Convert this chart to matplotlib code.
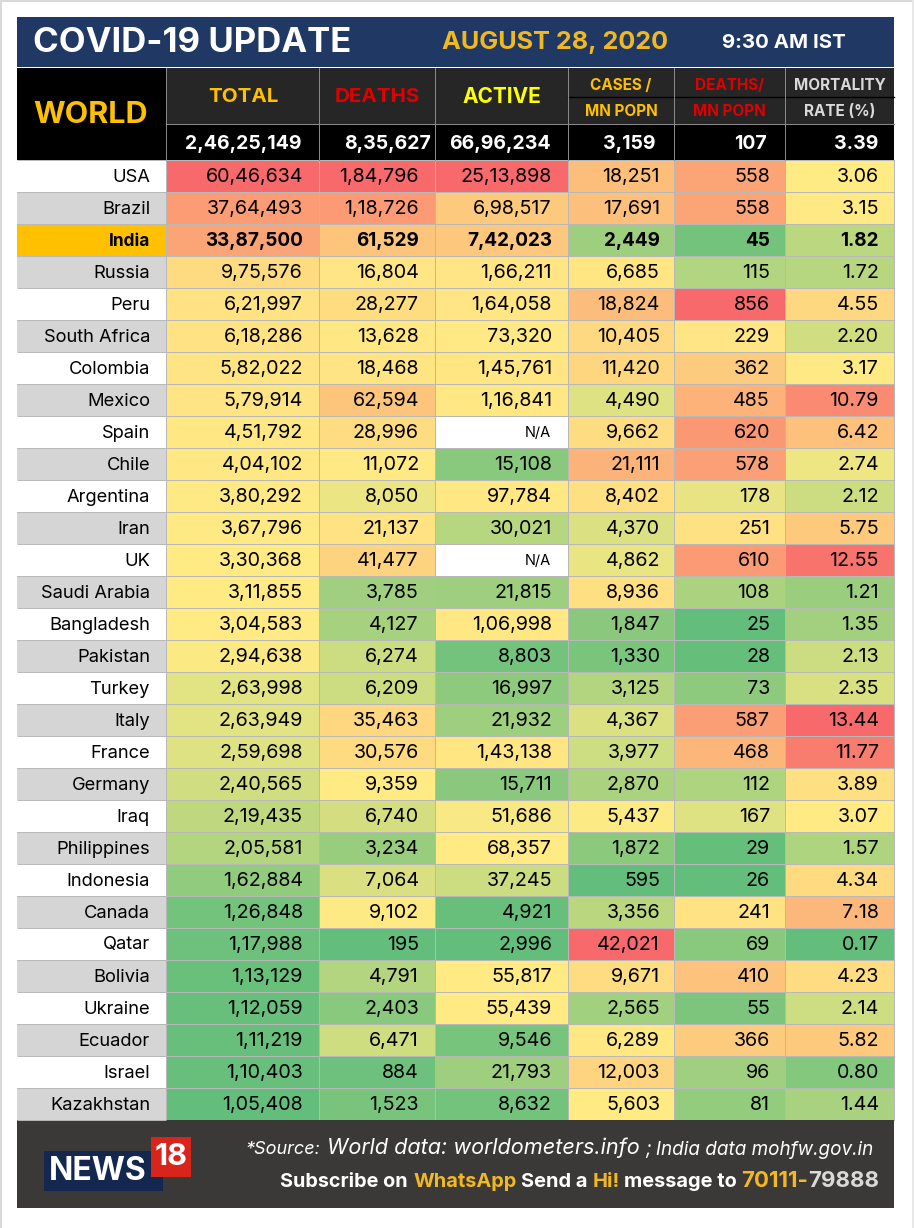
import numpy as np
import matplotlib
matplotlib.use("Agg")
import matplotlib.pyplot as plt
from matplotlib.colors import LinearSegmentedColormap, TwoSlopeNorm

plt.rcParams['font.family'] = ['Inter', 'DejaVu Sans']

countries = ["USA", "Brazil", "India", "Russia", "Peru", "South Africa", "Colombia", "Mexico",
             "Spain", "Chile", "Argentina", "Iran", "UK", "Saudi Arabia", "Bangladesh", "Pakistan",
             "Turkey", "Italy", "France", "Germany", "Iraq", "Philippines", "Indonesia", "Canada",
             "Qatar", "Bolivia", "Ukraine", "Ecuador", "Israel", "Kazakhstan"]
total = ["60,46,634", "37,64,493", "33,87,500", "9,75,576", "6,21,997", "6,18,286", "5,82,022", "5,79,914",
         "4,51,792", "4,04,102", "3,80,292", "3,67,796", "3,30,368", "3,11,855", "3,04,583", "2,94,638",
         "2,63,998", "2,63,949", "2,59,698", "2,40,565", "2,19,435", "2,05,581", "1,62,884", "1,26,848",
         "1,17,988", "1,13,129", "1,12,059", "1,11,219", "1,10,403", "1,05,408"]
deaths = ["1,84,796", "1,18,726", "61,529", "16,804", "28,277", "13,628", "18,468", "62,594",
          "28,996", "11,072", "8,050", "21,137", "41,477", "3,785", "4,127", "6,274",
          "6,209", "35,463", "30,576", "9,359", "6,740", "3,234", "7,064", "9,102",
          "195", "4,791", "2,403", "6,471", "884", "1,523"]
active = ["25,13,898", "6,98,517", "7,42,023", "1,66,211", "1,64,058", "73,320", "1,45,761", "1,16,841",
          "N/A", "15,108", "97,784", "30,021", "N/A", "21,815", "1,06,998", "8,803",
          "16,997", "21,932", "1,43,138", "15,711", "51,686", "68,357", "37,245", "4,921",
          "2,996", "55,817", "55,439", "9,546", "21,793", "8,632"]
cases_mn = ["18,251", "17,691", "2,449", "6,685", "18,824", "10,405", "11,420", "4,490",
            "9,662", "21,111", "8,402", "4,370", "4,862", "8,936", "1,847", "1,330",
            "3,125", "4,367", "3,977", "2,870", "5,437", "1,872", "595", "3,356",
            "42,021", "9,671", "2,565", "6,289", "12,003", "5,603"]
deaths_mn = ["558", "558", "45", "115", "856", "229", "362", "485",
             "620", "578", "178", "251", "610", "108", "25", "28",
             "73", "587", "468", "112", "167", "29", "26", "241",
             "69", "410", "55", "366", "96", "81"]
mortality = ["3.06", "3.15", "1.82", "1.72", "4.55", "2.20", "3.17", "10.79",
             "6.42", "2.74", "2.12", "5.75", "12.55", "1.21", "1.35", "2.13",
             "2.35", "13.44", "11.77", "3.89", "3.07", "1.57", "4.34", "7.18",
             "0.17", "4.23", "2.14", "5.82", "0.80", "1.44"]
world = ["2,46,25,149", "8,35,627", "66,96,234", "3,159", "107", "3.39"]
columns = [total, deaths, active, cases_mn, deaths_mn, mortality]


def tonum(s):
    return np.nan if s == "N/A" else float(s.replace(",", ""))


# excel style 3 colour scale, one per column, yellow at the median
cmap = LinearSegmentedColormap.from_list("excel", ["#63BE7B", "#FFEB84", "#F8696B"])
cmap.set_bad("white")

W, H = 914, 1228
fig = plt.figure(figsize=(W / 100, H / 100), dpi=100)
ax = fig.add_axes([0, 0, 1, 1])
ax.set_xlim(0, W)
ax.set_ylim(H, 0)
ax.axis("off")

GRID = "#B8B8B8"
xedges = [166, 319, 435, 568, 674, 785, 894]
right = [303, 419, 552, 660, 770, 879]
ROW0 = 160
ROWH = 32
n = len(countries)
yedges = ROW0 + ROWH * np.arange(n + 1)


def box(x0, y0, x1, y1, color, **kw):
    ax.fill([x0, x1, x1, x0], [y0, y0, y1, y1], color=color, lw=0, **kw)


# page edge
box(0, 0, W, 2, "#D9D9D9")
box(0, 0, 2, H, "#D9D9D9")
box(912, 0, W, H, "#E8E8E8")

# title band
box(17, 17, 894, 67, "#1F3864")
ax.text(33, 43, "COVID-19 UPDATE", color="white", fontsize=25, fontweight="bold", va="center")
ax.text(442, 43, "AUGUST 28, 2020", color="#F2B81F", fontsize=18.2, fontweight="bold", va="center")
ax.text(722, 43, "9:30 AM IST", color="white", fontsize=14.7, fontweight="bold", va="center")

# header block
box(17, 68, 166, 160, "black")
box(166, 68, 894, 124, "#262626")
box(166, 124, 894, 160, "black")
ax.text(91, 115, "WORLD", color="#FFC000", fontsize=22, fontweight="bold", ha="center", va="center")
ax.text(243, 97, "TOTAL", color="#FFC000", fontsize=14.8, fontweight="bold", ha="center", va="center")
ax.text(377, 97, "DEATHS", color="#E00000", fontsize=14.8, fontweight="bold", ha="center", va="center")
ax.text(502, 97, "ACTIVE", color="#FFFF00", fontsize=15, fontweight="bold", ha="center", va="center")
ax.text(621, 86, "CASES /", color="#FFC000", fontsize=11, fontweight="bold", ha="center", va="center")
ax.text(621, 111, "MN POPN", color="#FFC000", fontsize=11, fontweight="bold", ha="center", va="center")
ax.text(729, 86, "DEATHS/", color="#E00000", fontsize=11, fontweight="bold", ha="center", va="center")
ax.text(729, 111, "MN POPN", color="#E00000", fontsize=11, fontweight="bold", ha="center", va="center")
ax.text(840, 86, "MORTALITY", color="#D9D9D9", fontsize=11, fontweight="bold", ha="center", va="center")
ax.text(840, 111, "RATE (%)", color="#D9D9D9", fontsize=11, fontweight="bold", ha="center", va="center")
ax.plot([568, 894], [97, 97], color="black", lw=1)
for x in xedges[:-1]:
    ax.plot([x, x], [68, 160], color="#8C8C8C", lw=0.7)
ax.plot([166, 894], [124, 124], color="#8C8C8C", lw=0.7)

world_right = [301, 431, 551, 656, 767, 878]
for x, s in zip(world_right, world):
    ax.text(x, 144, s, color="white", fontsize=14, fontweight="bold", ha="right", va="center")

# country column
for i, name in enumerate(countries):
    if name == "India":
        bg = "#FFC000"
    elif i % 2 == 0:
        bg = "white"
    else:
        bg = "#D5D5D5"
    box(17, yedges[i], 166, yedges[i + 1], bg)
    weight = "bold" if name == "India" else "normal"
    size = 12.4 if name == "India" else 13.2
    ax.text(150, yedges[i] + 17, name, color="black", fontsize=size, fontweight=weight, ha="right", va="center")
ax.hlines(yedges, 17, 166, color=GRID, lw=0.7)

# heat columns
for j, col in enumerate(columns):
    vals = np.array([tonum(s) for s in col])
    norm = TwoSlopeNorm(vmin=np.nanmin(vals), vcenter=np.nanmedian(vals), vmax=np.nanmax(vals))
    ax.pcolormesh([xedges[j], xedges[j + 1]], yedges, np.ma.masked_invalid(vals)[:, None],
                  cmap=cmap, norm=norm, edgecolors=GRID, linewidth=0.5)
    for i, s in enumerate(col):
        is_india = countries[i] == "India"
        if s == "N/A":
            ax.text(right[j] - 1, yedges[i] + 17, s, color="black", fontsize=10.5, ha="right", va="center")
        else:
            ax.text(right[j], yedges[i] + 17, s, color="black", fontsize=13.6 if is_india else 14.2,
                    fontweight="bold" if is_india else "normal", ha="right", va="center")

# footer
box(17, 1120, 894, 1208, "#3B3838")
box(44, 1151, 163, 1191, "#14284F")
box(151, 1137, 191, 1177, "#D9241C")
ax.text(49, 1171, "NEWS", color="white", fontsize=23, fontweight="bold", va="center")
ax.text(171, 1157, "18", color="white", fontsize=22, fontweight="bold", ha="center", va="center")

ax.text(245, 1150, "*Source:", color="white", fontsize=13, style="italic", va="center")
ax.text(327, 1148, "World data: worldometers.info", color="white", fontsize=15.6, style="italic", va="center")
ax.text(645, 1150, "; India data mohfw.gov.in", color="white", fontsize=13.6, style="italic", va="center")

ax.text(280, 1182, "Subscribe on", color="white", fontsize=14.3, fontweight="bold", va="center")
ax.text(414, 1182, "WhatsApp", color="#F2B81F", fontsize=14.4, fontweight="bold", va="center")
ax.text(521, 1182, "Send a", color="white", fontsize=14.4, fontweight="bold", va="center")
ax.text(593, 1182, "Hi!", color="#F2B81F", fontsize=14.4, fontweight="bold", va="center")
ax.text(624, 1182, "message to", color="white", fontsize=14.4, fontweight="bold", va="center")
ax.text(741, 1181, "70111-", color="#F2B81F", fontsize=16, fontweight="bold", va="center")
ax.text(808, 1181, "79888", color="#D9D9D9", fontsize=16, fontweight="bold", va="center")

fig.savefig("out.png", dpi=100)
